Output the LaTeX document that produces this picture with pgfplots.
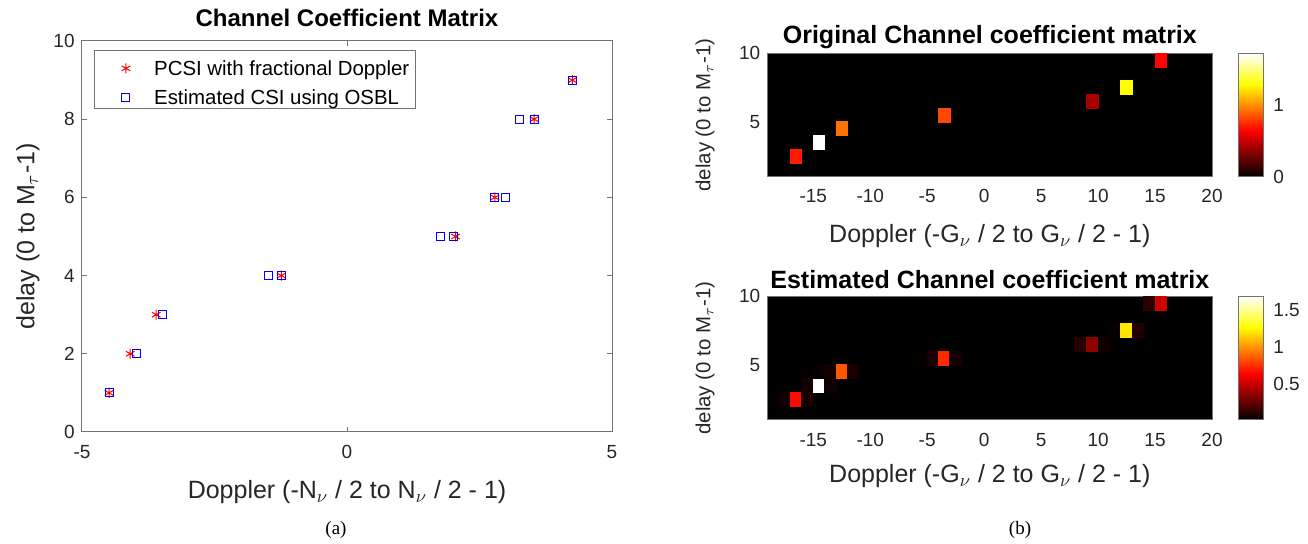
\documentclass[border=0pt]{standalone}
\usepackage{pgfplots}
\pgfplotsset{compat=1.18}
\usepackage{fontspec}
\setmainfont{Liberation Sans}
\newfontfamily\capfont{Liberation Serif}
\definecolor{mgray}{rgb}{0.15,0.15,0.15}
\definecolor{mred}{rgb}{1,0,0}
\definecolor{mblue}{rgb}{0,0,1}

\pgfplotsset{colormap={mhot}{rgb(0)=(0,0,0); rgb(3)=(1,0,0); rgb(6)=(1,1,0); rgb(8)=(1,1,1)}}
\pgfplotsset{
  mstyle/.style={
    scale only axis,
    anchor=south west,
    /pgf/number format/assume math mode=true,
    tick label style={font=\fontsize{9.5}{11}\selectfont, text=mgray},
    label style={font=\fontsize{12.5}{14}\selectfont, text=mgray},
    title style={font=\fontsize{12}{14}\selectfont\bfseries, anchor=center, yshift=-6pt},
    axis line style={black!55, line width=0.5pt},
    every tick/.style={black!55, line width=0.5pt},
    tick align=inside,
    xticklabel style={anchor=center},
    yticklabel style={anchor=east, inner sep=0pt, xshift=-3.5pt},
  },
  heat/.style={
    mstyle,
    width=222.15pt, height=61.85pt,
    xmin=-19, xmax=20, ymin=1, ymax=10,
    xtick={-15,-10,...,20}, ytick={5,10},
    major tick length=0pt,
    axis background/.style={fill=black},
    colormap name=mhot,
    title style={at={(axis description cs:0.5,1.132)}, font=\fontsize{12.5}{14}\selectfont\bfseries},
    xlabel={Doppler (-G$_\nu$ / 2 to G$_\nu$ / 2 - 1)},
    ylabel={delay (0 to M$_\tau$-1)},
    ylabel style={at={(axis description cs:-0.141,0.5)}, anchor=center, font=\fontsize{10.2}{12}\selectfont},
    colorbar,
    colorbar style={
      at={(parent axis.north east)}, anchor=north west, xshift=4.6pt,
      scale only axis, width=12.85pt, height=61.85pt,
      axis line style={black!55, line width=0.5pt},
      major tick length=0pt,
      /pgf/number format/assume math mode=true,
      yticklabel style={font=\fontsize{9.5}{11}\selectfont, text=mgray, anchor=west, inner sep=0pt, xshift=4.5pt},
    },
  },
  heatcell/.style={
    scatter, only marks, point meta=explicit, mark=square*, mark size=2.86pt,
    mark options={yscale=1.2065, line width=0pt},
    scatter/use mapped color={draw=mapped color, fill=mapped color},
  },
  legimg/.style={
    legend image code/.code={
      \path (-12.5pt,-5pt) (13.85pt,5pt);
      \draw[##1] plot coordinates {(0pt,-1.5pt)};
    },
  },
}

\begin{document}
\begin{tikzpicture}
\useasboundingbox (0,0) rectangle (654pt,272pt);

% (a) scatter of path positions
\begin{axis}[mstyle, at={(41pt,56pt)}, width=265pt, height=195.5pt,
  xmin=-5, xmax=5, ymin=0, ymax=10,
  xtick={-5,0,5}, ytick={0,2,...,10},
  major tick length=2.6pt,
  xticklabel style={yshift=-10pt},
  title={Channel Coefficient Matrix},
  title style={at={(axis description cs:0.5,1.0588)}},
  xlabel={Doppler (-N$_\nu$ / 2 to N$_\nu$ / 2 - 1)},
  xlabel style={at={(axis description cs:0.5,-0.1535)}, anchor=center},
  ylabel={delay (0 to M$_\tau$-1)},
  ylabel style={at={(axis description cs:-0.102,0.5)}, anchor=center},
  legend style={at={(0.0226,0.977)}, anchor=north west, draw=black!55, line width=0.5pt,
    font=\fontsize{10.2}{12}\selectfont, text=black,
    inner xsep=3pt, inner ysep=2.2pt, row sep=3.85pt,
    nodes={inner sep=0pt, text height=10.3pt, text depth=0pt}},
  legend cell align=left,
]
\addplot[only marks, mark=asterisk, color=mred, mark size=2.5pt,
  mark options={draw=mred, line width=0.5pt}, legimg]
  coordinates {(-4.49,1)(-4.09,2)(-3.60,3)(-1.24,4)(2.05,5)(2.79,6)(3.53,8)(4.25,9)};
\addlegendentry{PCSI with fractional Doppler}
\addplot[only marks, mark=square, color=mblue, mark size=2pt,
  mark options={draw=mblue, line width=0.5pt}, legimg]
  coordinates {(-4.49,1)(-3.98,2)(-3.48,3)(-1.49,4)(-1.24,4)(1.76,5)(2.00,5)(2.79,6)(2.99,6)(3.26,8)(3.53,8)(4.25,9)};
\addlegendentry{Estimated CSI using OSBL}
\end{axis}

% (b) original
\begin{axis}[heat, at={(383.85pt,183.5pt)},
  title={Original Channel coefficient matrix},
  xticklabel style={yshift=-9.5pt},
  xlabel style={at={(axis description cs:0.5,-0.477)}, anchor=center},
  point meta min=0, point meta max=1.72,
  colorbar style={ytick={0,1}},
]
\addplot[heatcell] coordinates {
  (-16.5,2.5) [0.71]
  (-14.5,3.5) [1.72]
  (-12.5,4.5) [0.93]
  (-3.5,5.5) [0.83]
  (9.5,6.5) [0.425]
  (12.5,7.5) [1.29]
  (15.5,9.5) [0.65]
};
\end{axis}

% (b) estimated
\begin{axis}[heat, at={(383.85pt,62pt)},
  title={Estimated Channel coefficient matrix},
  xticklabel style={yshift=-10pt},
  xlabel style={at={(axis description cs:0.5,-0.453)}, anchor=center},
  point meta min=0.02, point meta max=1.69,
  colorbar style={ytick={0.5,1,1.5}},
]
\addplot[heatcell] coordinates {
  (-17.5,2.5) [0.06]
  (-16.5,2.5) [0.67]
  (-15.5,2.5) [0.08]
  (-15.5,3.5) [0.06]
  (-14.5,3.5) [1.69]
  (-13.5,3.5) [0.05]
  (-14.5,4.5) [0.04]
  (-13.5,4.5) [0.07]
  (-12.5,4.5) [0.86]
  (-11.5,4.5) [0.08]
  (-5.5,5.5) [0.03]
  (-4.5,5.5) [0.09]
  (-3.5,5.5) [0.745]
  (-2.5,5.5) [0.07]
  (8.5,6.5) [0.12]
  (9.5,6.5) [0.37]
  (10.5,6.5) [0.06]
  (11.5,7.5) [0.04]
  (12.5,7.5) [1.21]
  (13.5,7.5) [0.10]
  (14.5,9.5) [0.13]
  (15.5,9.5) [0.53]
};
\end{axis}

\node[font=\capfont\fontsize{9.5}{11}\selectfont] at (168pt,7pt) {(a)};
\node[font=\capfont\fontsize{9.5}{11}\selectfont] at (510pt,7pt) {(b)};
\end{tikzpicture}
\end{document}
